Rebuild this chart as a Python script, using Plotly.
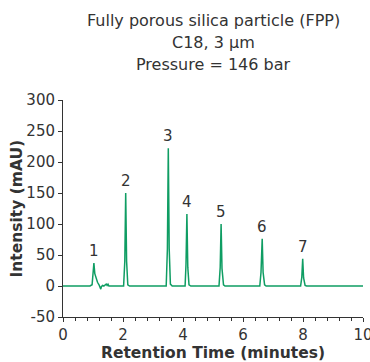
import plotly.graph_objects as go

# Chromatogram trace
time_min = [0.0, 0.90, 0.97, 1.00, 1.03, 1.06, 1.10, 1.15, 1.20, 1.24, 1.26, 1.28, 1.32, 1.36,
            1.40, 1.44, 1.47, 1.50, 1.53, 1.60,
            2.02, 2.06, 2.09, 2.12, 2.16, 2.22,
            3.44, 3.48, 3.51, 3.54, 3.58, 3.64,
            4.07, 4.10, 4.13, 4.16, 4.20, 4.26,
            5.20, 5.24, 5.27, 5.30, 5.35, 5.40,
            6.56, 6.60, 6.64, 6.67, 6.72, 6.77,
            7.92, 7.96, 7.99, 8.02, 8.07, 8.12,
            8.40, 8.55, 8.70, 8.85, 10.0]
intensity = [0, 0, 2, 25, 37, 20, 12, 6, 2, -2, -5, -1, 1, 0,
             2, 3, 1, 3, 0, 0,
             0, 40, 150, 40, 2, 0,
             0, 60, 222, 60, 3, 0,
             0, 35, 116, 30, 2, 0,
             0, 30, 100, 28, 2, 0,
             0, 22, 76, 22, 2, 0,
             0, 14, 44, 13, 1, 0,
             0, 1, 1, 0, 0]

# Peak labels
peak_labels = ["1", "2", "3", "4", "5", "6", "7"]
peak_times = [1.03, 2.09, 3.51, 4.13, 5.27, 6.64, 7.99]
peak_heights = [37, 150, 222, 116, 100, 76, 44]

# Axis ticks
y_tickvals = [-50, 0, 50, 100, 150, 200, 250, 300]
y_ticktext = ["-50", "0", "50", "100", "150", "200", "250", "300"]

title_lines = ["Fully porous silica particle (FPP)", "C18, 3 µm", "Pressure = 146 bar"]
title_shifts = [80, 58, 36]

FONT = "DejaVu Sans"
TXT = "#333333"

fig = go.Figure()
fig.add_trace(go.Scatter(x=time_min, y=intensity, mode="lines",
                         line=dict(color="#0f9d63", width=1.5), hoverinfo="skip",
                         showlegend=False))

for lab, t, h in zip(peak_labels, peak_times, peak_heights):
    fig.add_annotation(x=t, y=h, text=lab, showarrow=False, yanchor="bottom",
                       yshift=1, font=dict(family=FONT, size=15, color=TXT))

for line, s in zip(title_lines, title_shifts):
    fig.add_annotation(x=0.5, y=1, xref="paper", yref="paper", xanchor="center",
                       yanchor="middle", yshift=s, showarrow=False, text=line,
                       font=dict(family=FONT, size=16, color=TXT))

# y-axis title
fig.add_annotation(x=0, y=0.5, xref="paper", yref="paper", xanchor="center",
                   yanchor="middle", xshift=-47, yshift=0, textangle=-90, showarrow=False,
                   text="<b>Intensity (mAU)</b>",
                   font=dict(family=FONT, size=15.5, color=TXT))

fig.update_layout(
    width=370, height=362,
    margin=dict(l=63, r=7, t=100, b=45, autoexpand=False),
    paper_bgcolor="white", plot_bgcolor="white",
    xaxis=dict(range=[0, 10], dtick=2, tick0=0, showgrid=False, zeroline=False,
               showline=True, linecolor="#333333", linewidth=1,
               ticks="outside", ticklen=4, tickcolor="#333333",
               ticklabeloverflow="allow", automargin=False,
               minor=dict(dtick=0.4, ticks="outside", ticklen=3, tickcolor="#333333", showgrid=False),
               tickfont=dict(family=FONT, size=15, color=TXT),
               title=dict(text="<b>Retention Time (minutes)</b>", standoff=3,
                          font=dict(family=FONT, size=15.5, color=TXT))),
    yaxis=dict(range=[-50, 300], tickmode="array", tickvals=y_tickvals, ticktext=y_ticktext,
               showgrid=False, zeroline=False,
               showline=True, linecolor="#333333", linewidth=1,
               ticks="outside", ticklen=4, tickcolor="#333333", automargin=False,
               tickfont=dict(family=FONT, size=15, color=TXT)),
)

fig.write_html("out.html")
